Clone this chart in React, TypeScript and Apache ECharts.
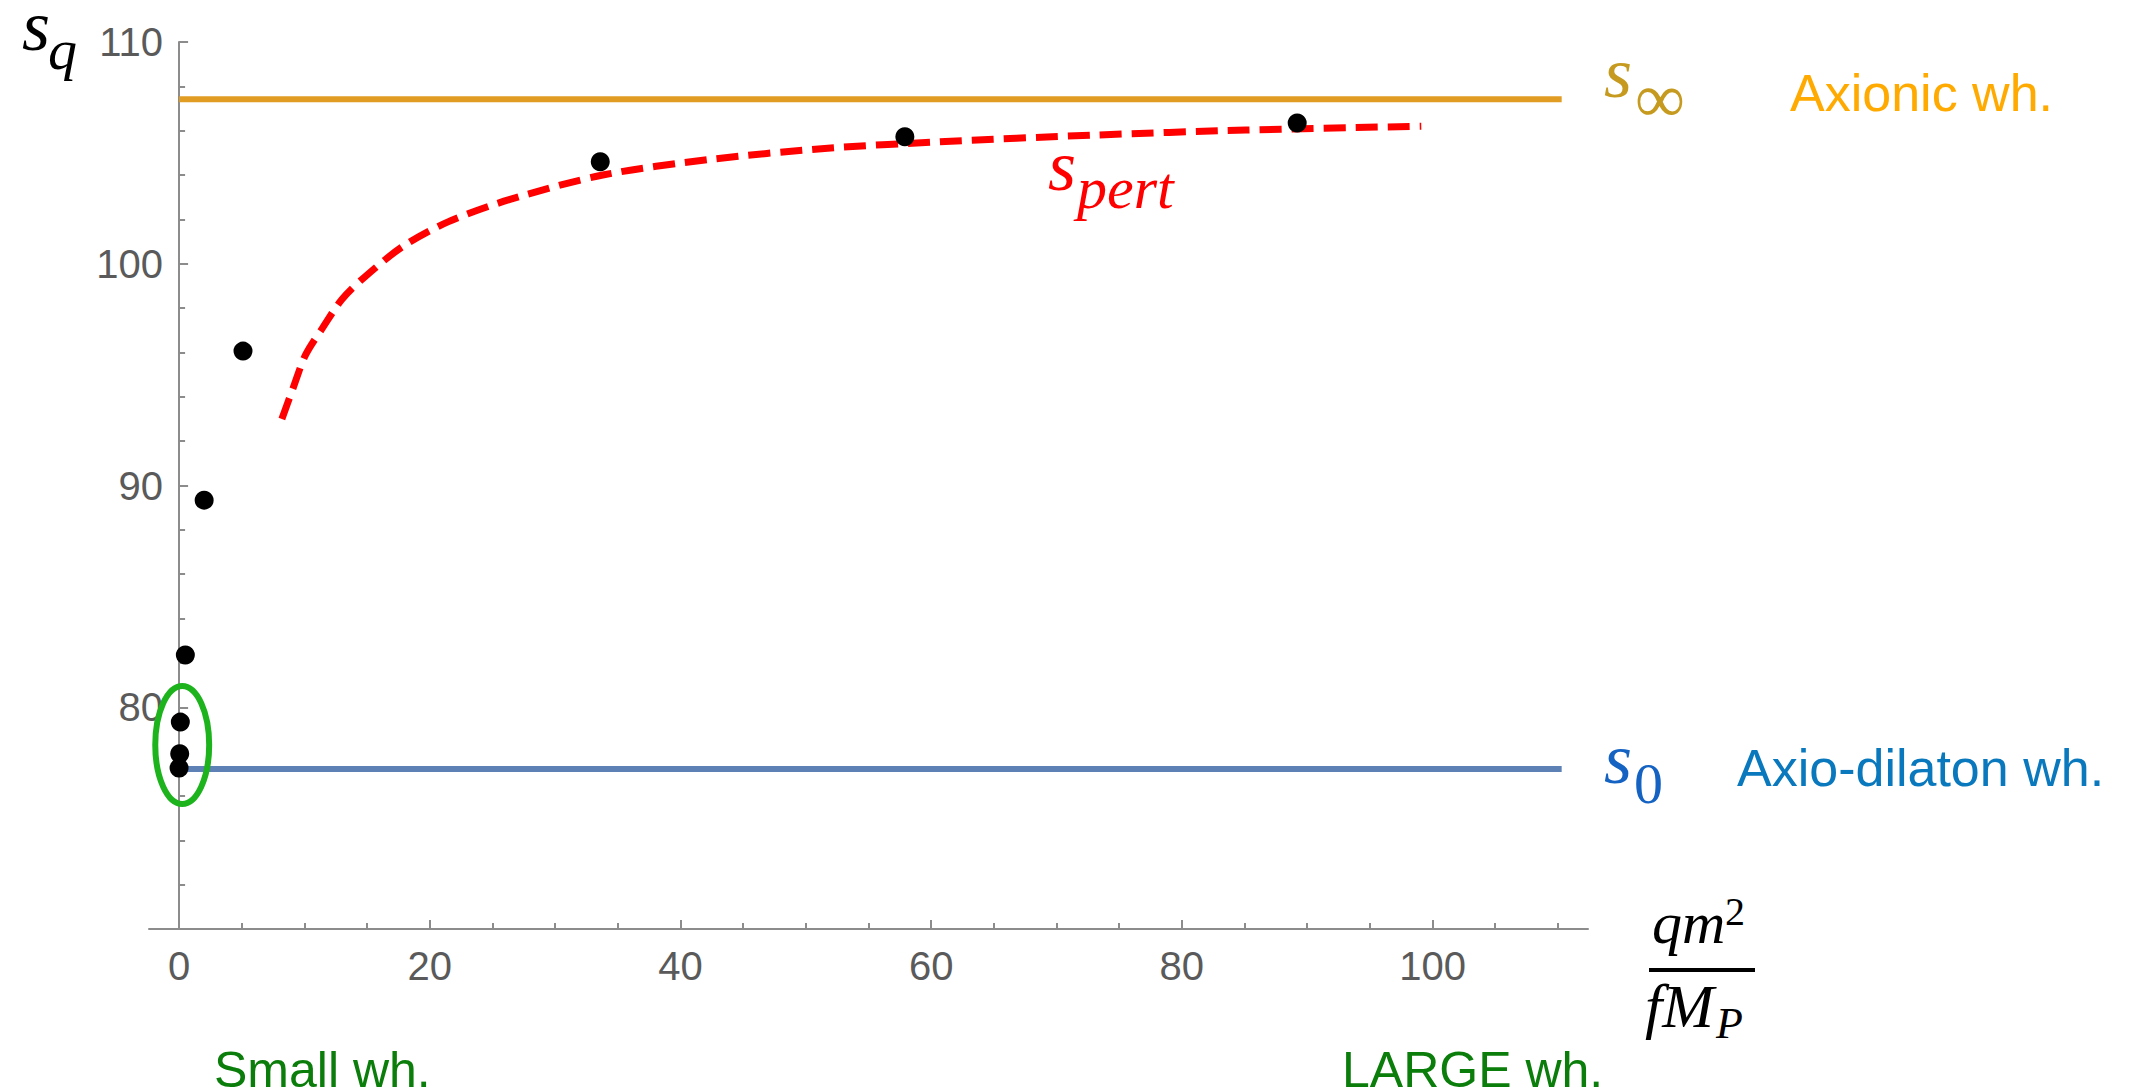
import React, { useEffect, useRef } from "react";
import * as echarts from "echarts";

// ---- data ----
const pointsX = [0.0, 0.05, 0.1, 0.5, 2.0, 5.1, 33.6, 57.9, 89.2];
const pointsY = [77.26, 77.9, 79.33, 82.36, 89.34, 96.06, 104.6, 105.73, 106.35];

const pertX = [8.2, 9.1, 10.1, 11.5, 13.0, 14.8, 17.9, 21.5, 26.4, 33.8, 42.3, 51.5, 60.7, 72.9, 85.1, 99.1];
const pertY = [93.0, 94.4, 95.9, 97.15, 98.4, 99.4, 100.8, 101.9, 102.9, 104.0, 104.7, 105.2, 105.5, 105.8, 106.03, 106.2];

const sInf = 107.42;
const s0 = 77.22;
const hLineX = [0, 110.3];

const xRange = [-2.4, 112.4];
const yRange = [70, 110];
const xMinorTicks = [0, 5, 10, 15, 20, 25, 30, 35, 40, 45, 50, 55, 60, 65, 70, 75, 80, 85, 90, 95, 100, 105, 110];
const xMajorTicks = [0, 20, 40, 60, 80, 100];
const xTickLabels = [0, 20, 40, 60, 80, 100];
const yTickLabels = [80, 90, 100, 110];

const ellipseCenter = [0.25, 78.3];
const ellipseRadii = [2.15, 2.66];

const SERIF = "'Liberation Serif', 'DejaVu Serif', serif";
const SANS = "'Liberation Sans', Arial, sans-serif";

function txt(text: string, x: number, baseline: number, size: number, color: string, family: string, italic: boolean, lh = 0.7) {
  return {
    type: "text",
    x,
    y: baseline - 0.35 * size,
    z: 100,
    style: {
      text,
      fill: color,
      fontSize: size,
      fontFamily: family,
      fontStyle: italic ? "italic" : "normal",
      lineHeight: Math.round(size * lh),
      verticalAlign: "middle",
      align: "left",
    },
  };
}

export default function App() {
  const ref = useRef<HTMLDivElement>(null);

  useEffect(() => {
    if (!ref.current) return;
    const chart = echarts.init(ref.current, null, { renderer: "svg" });
    const axisGray = "#8c8c8c";
    const labelGray = "#5a5a5a";

    chart.setOption({
      animation: false,
      backgroundColor: "#ffffff",
      grid: { left: 149, right: 550, top: 42, bottom: 163, containLabel: false, outerBoundsMode: "none" },
      xAxis: [
        {
          type: "value",
          min: xRange[0],
          max: xRange[1],
          position: "bottom",
          axisLine: { show: true, onZero: false, lineStyle: { color: axisGray, width: 2 } },
          axisTick: { show: true, inside: true, length: 6, customValues: xMinorTicks, lineStyle: { color: axisGray, width: 2 } },
          axisLabel: { show: false },
          splitLine: { show: false },
        },
        {
          type: "value",
          min: xRange[0],
          max: xRange[1],
          position: "bottom",
          offset: 0,
          gridIndex: 0,
          axisLine: { show: false, onZero: false },
          axisTick: { show: true, inside: true, length: 9, customValues: xMajorTicks, lineStyle: { color: axisGray, width: 2 } },
          axisLabel: {
            show: true,
            customValues: xTickLabels,
            margin: 17,
            color: labelGray,
            fontSize: 40,
            fontFamily: SANS,
          },
          splitLine: { show: false },
        },
      ],
      yAxis: {
        type: "value",
        min: yRange[0],
        max: yRange[1],
        interval: 10,
        axisLine: { show: true, onZero: true, onZeroAxisIndex: 0, lineStyle: { color: axisGray, width: 2 } },
        axisTick: { show: true, inside: true, length: 9, lineStyle: { color: axisGray, width: 2 } },
        minorTick: { show: true, splitNumber: 5, length: 6, lineStyle: { color: axisGray, width: 2 } },
        axisLabel: {
          show: true,
          margin: -14,
          color: labelGray,
          fontSize: 40,
          fontFamily: SANS,
          formatter: (v: number) => (yTickLabels.includes(v) ? String(v) : ""),
        },
        splitLine: { show: false },
        minorSplitLine: { show: false },
      },
      series: [
        {
          type: "line",
          data: hLineX.map((x) => [x, sInf]),
          symbol: "none",
          lineStyle: { color: "#e19c24", width: 6 },
          z: 2,
        },
        {
          type: "line",
          data: hLineX.map((x) => [x, s0]),
          symbol: "none",
          lineStyle: { color: "#5e81b5", width: 6 },
          z: 2,
        },
        {
          type: "line",
          data: pertX.map((x, i) => [x, pertY[i]]),
          symbol: "none",
          smooth: 0.3,
          lineStyle: { color: "#ff0000", width: 7, type: [22, 10] },
          z: 3,
        },
        {
          type: "scatter",
          data: pointsX.map((x, i) => [x, pointsY[i]]),
          symbol: "circle",
          symbolSize: 19,
          itemStyle: { color: "#000000", opacity: 1 },
          z: 4,
        },
      ],
    });

    const c = chart.convertToPixel({ gridIndex: 0 }, ellipseCenter) as number[];
    const e = chart.convertToPixel({ gridIndex: 0 }, [ellipseCenter[0] + ellipseRadii[0], ellipseCenter[1] + ellipseRadii[1]]) as number[];
    const rx = Math.abs(e[0] - c[0]);
    const ry = Math.abs(e[1] - c[1]);

    const gold = "#c59a1e";
    const blueS = "#1462c2";

    chart.setOption({
      graphic: [
        {
          type: "ellipse",
          z: 100,
          shape: { cx: c[0], cy: c[1], rx, ry },
          style: { fill: "none", stroke: "#1db31d", lineWidth: 6 },
        },
        // y-axis title s_q
        txt("s", 22, 51, 72, "#000000", SERIF, true),
        txt("q", 48, 70, 58, "#000000", SERIF, true),
        // s_inf
        txt("s", 1604, 98, 72, gold, SERIF, true),
        txt("∞", 1635, 123, 70, gold, SERIF, false),
        txt("Axionic wh.", 1790, 111, 52, "#ffaa00", SANS, false),
        // s_0
        txt("s", 1604, 784, 72, blueS, SERIF, true),
        txt("0", 1634, 804, 58, blueS, SERIF, false),
        txt("Axio-dilaton wh.", 1737, 786, 52, "#0a78bd", SANS, false),
        // s_pert
        txt("s", 1048, 191, 72, "#ff0000", SERIF, true, 0.55),
        txt("pert", 1077, 209, 60, "#ff0000", SERIF, true, 0.55),
        // x-axis title fraction
        txt("qm", 1652, 944, 60, "#000000", SERIF, true),
        txt("2", 1725, 925, 40, "#000000", SERIF, false),
        { type: "rect", z: 100, shape: { x: 1649, y: 968, width: 106, height: 4 }, style: { fill: "#000000" } },
        txt("fM", 1645, 1028, 62, "#000000", SERIF, true),
        txt("P", 1716, 1039, 44, "#000000", SERIF, true),
        // region labels
        txt("Small wh.", 214, 1087, 50, "#0b7d0b", SANS, false),
        txt("LARGE wh.", 1342, 1087, 50, "#0b7d0b", SANS, false),
      ],
    });

    return () => chart.dispose();
  }, []);

  return (
    <div
      ref={ref}
      style={{ position: "fixed", left: 0, top: 0, width: 2138, height: 1092, background: "#fff" }}
    />
  );
}
